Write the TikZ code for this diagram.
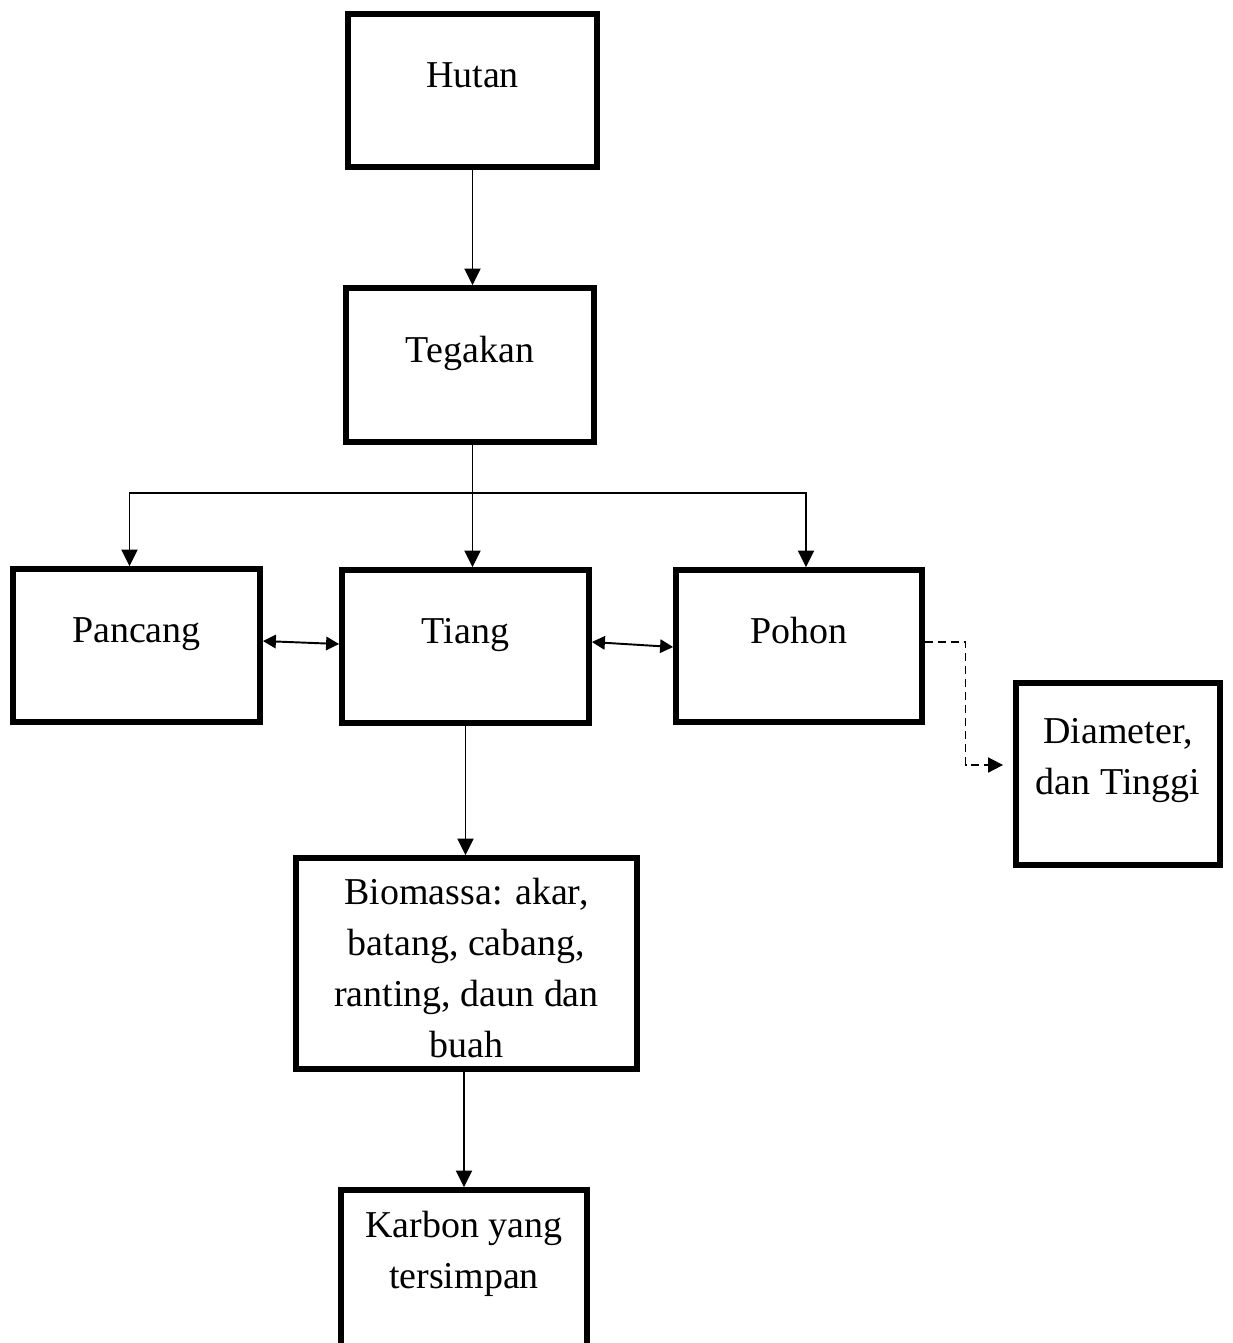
\documentclass[tikz,border=0pt]{standalone}
\usepackage{fontspec}
\setmainfont{Liberation Serif}
\usetikzlibrary{arrows.meta}
\usetikzlibrary{calc}
\usepackage{xcolor}

\begin{document}
\begin{tikzpicture}[
    box/.style={draw, line width=3.3pt, align=center, inner sep=0pt,
                font=\fontsize{21.6}{29}\selectfont,
                text height=0.55cm, text depth=0.67cm},
    arr/.style={line width=1.1pt, -{Triangle[length=0.33cm,width=0.32cm]}},
    dbl/.style={line width=1.1pt, {Triangle[length=0.26cm,width=0.27cm]}-{Triangle[length=0.26cm,width=0.27cm]}},
    dsh/.style={line width=1pt, dash pattern=on 0.16cm off 0.1cm, -{Triangle[length=0.3cm,width=0.3cm]}}
  ]

        \useasboundingbox (0,0) rectangle (24.66,-26.86);

        % Boxes
        \node[box, minimum width=4.98cm, minimum height=3.06cm] (hutan) at (9.45,-1.81) {Hutan};
        \node[box, minimum width=4.96cm, minimum height=3.08cm] (tegakan) at (9.40,-7.30) {Tegakan};
        \node[box, minimum width=4.94cm, minimum height=3.06cm] (pancang) at (2.73,-12.91) {Pancang};
        \node[box, minimum width=4.94cm, minimum height=3.06cm] (tiang) at (9.31,-12.93) {Tiang};
        \node[box, minimum width=4.92cm, minimum height=3.04cm] (pohon) at (15.98,-12.92) {Pohon};
        \node[box, minimum width=4.08cm, minimum height=3.64cm, text height=1.47cm] (diameter) at (22.36,-15.48) {Diameter,\\dan Tinggi};
        \node[box, minimum width=6.82cm, minimum height=4.22cm, text height=3.84cm, text depth=0.1cm] (biomassa) at (9.33,-19.27) {Biomassa: akar,\\batang, cabang,\\ranting, daun dan\\buah};
        \node[box, minimum width=4.92cm, minimum height=3.14cm, text height=1.45cm] (karbon) at (9.28,-25.37) {Karbon yang\\tersimpan};

        % Top branch
        \draw[arr] (hutan.south) -- (hutan.south |- tegakan.north);
        \coordinate (split) at (9.45,-9.86);
        \draw[line width=1.1pt] (hutan.south |- tegakan.south) -- (split);
        \draw[arr] (split) -| ($(pancang.north)+(-0.14,0)$);
        \draw[arr] (split) -| ($(pohon.north)+(0.14,0)$);
        \draw[arr] (split) -- (split |- tiang.north);

        % Between the middle boxes
        \draw[dbl] ($(pancang.east)+(0,0.09)$) -- ($(tiang.west)+(0,0.05)$);
        \draw[dbl] ($(tiang.east)+(0,0.09)$) -- ($(pohon.west)+(0,-0.02)$);

        % Dashed link
        \coordinate (bend) at (19.31,-15.30);
        \draw[dsh] ($(pohon.east)+(0,0.08)$) -| (bend) -- ($(bend -| diameter.west)+(-0.2,0)$);

        % Lower chain
        \draw[arr] (tiang.south) -- (tiang.south |- biomassa.north);
        \draw[arr] ($(karbon.north |- biomassa.south)+(0,0.1)$) -- (karbon.north);
    \end{tikzpicture}
\end{document}
